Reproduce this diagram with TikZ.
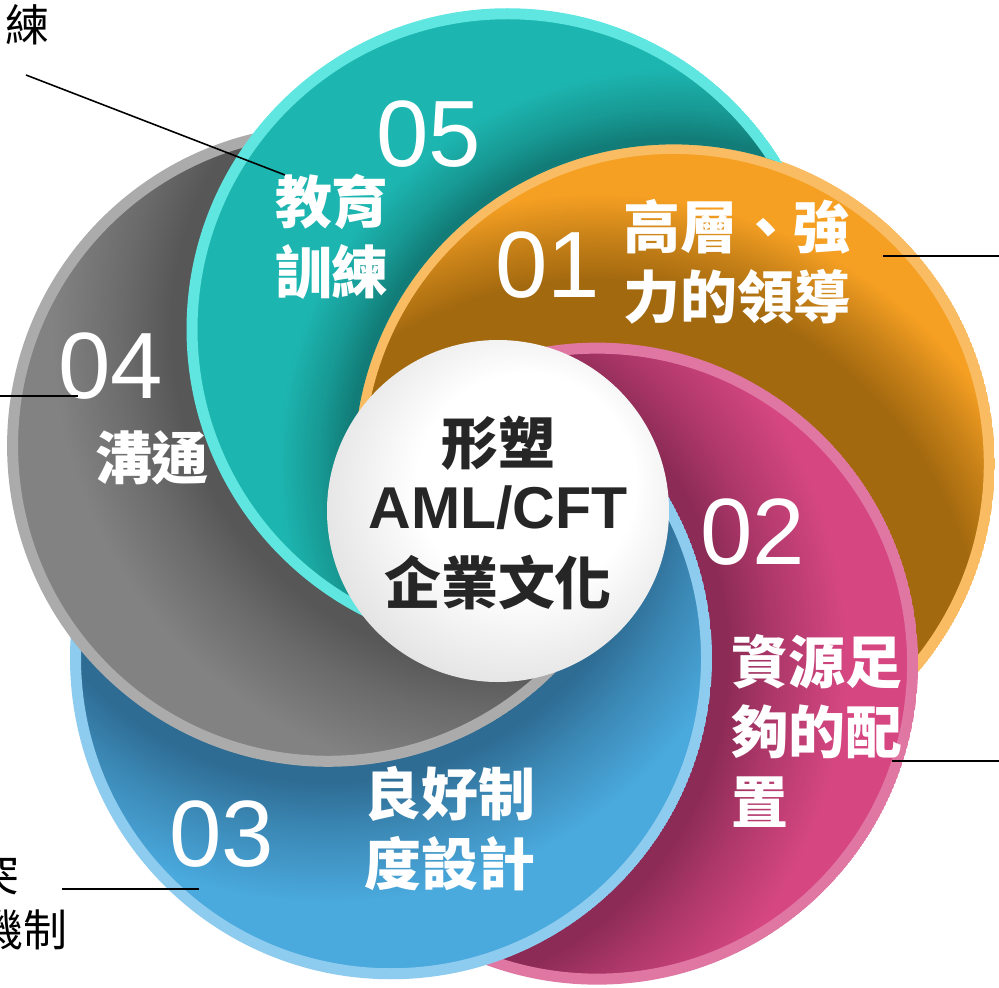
\documentclass[tikz,border=0pt]{standalone}
\usepackage{fontspec}
\setmainfont{Liberation Sans}
\newfontfamily\cjk{Noto Sans CJK TC}
\usepackage{tikz}

\definecolor{orbase}{HTML}{F6A023}
\definecolor{ordark}{HTML}{A3690F}
\definecolor{orrim}{HTML}{F9BC63}
\definecolor{pkbase}{HTML}{D64782}
\definecolor{pkdark}{HTML}{8C2B55}
\definecolor{pkrim}{HTML}{E077A3}
\definecolor{blbase}{HTML}{4AA9DD}
\definecolor{bldark}{HTML}{2E6C93}
\definecolor{blrim}{HTML}{8DCBEF}
\definecolor{grbase}{HTML}{828282}
\definecolor{grdark}{HTML}{575757}
\definecolor{grrim}{HTML}{ABABAB}
\definecolor{tlbase}{HTML}{1DB5B0}
\definecolor{tldark}{HTML}{127D78}
\definecolor{tlrim}{HTML}{5FE6E0}
\definecolor{coretext}{HTML}{262626}
\colorlet{sbase}{white}
\colorlet{sdark}{black}

\pgfdeclareradialshading[sdark,sbase]{shadowwide}{\pgfpointorigin}{%
  color(0bp)=(sdark); color(16bp)=(sdark); color(17.8bp)=(sdark!55!sbase);
  color(19.6bp)=(sbase); color(50bp)=(sbase)}
\pgfdeclareradialshading[sdark,sbase]{shadowmid}{\pgfpointorigin}{%
  color(0bp)=(sdark); color(14bp)=(sdark); color(16bp)=(sdark!55!sbase);
  color(19bp)=(sbase); color(50bp)=(sbase)}
\pgfdeclareradialshading[sdark,sbase]{shadowthin}{\pgfpointorigin}{%
  color(0bp)=(sdark); color(13.6bp)=(sdark); color(14.8bp)=(sdark!50!sbase);
  color(16.5bp)=(sbase); color(50bp)=(sbase)}
\pgfdeclareradialshading{whiteball}{\pgfpoint{6bp}{6bp}}{%
  color(0bp)=(white); color(16bp)=(white); color(28bp)=(black!10);
  color(34bp)=(black!20); color(50bp)=(black!25)}

% one coloured disc, seen only where the disc that covers it is not
\newcommand\petal[6]{%
  \begin{scope}[even odd rule]
    \clip (#1) circle (3.21);
    \clip (-7,-7) rectangle (7,7) (#2) circle (3.195);
    \begin{scope}
      \clip (#1) circle (3.16);
      \colorlet{sbase}{#3}\colorlet{sdark}{#4}
      \shade[shading=#6] (#2) circle (6);
    \end{scope}
    \draw[#5, line width=0.11cm] (#1) circle (3.155);
  \end{scope}
}

\tikzset{
  number/.style={text=white, inner sep=0pt, font=\fontsize{26.8}{30}\selectfont},
  petaltext/.style={text=white, inner sep=0pt, align=center, font=\cjk\bfseries\fontsize{16.2}{19.9}\selectfont},
  sidetext/.style={inner sep=0pt, font=\cjk\fontsize{12.5}{15}\selectfont},
  leader/.style={draw=black, line width=0.45pt}
}

\begin{document}
\begin{tikzpicture}
    \useasboundingbox (-4.98,-4.76) rectangle (5.01,5.11);

    \coordinate (c1) at (15:1.82);
    \coordinate (c2) at (303:1.82);
    \coordinate (c3) at (234:1.82);
    \coordinate (c4) at (159:1.82);
    \coordinate (c5) at (87:1.82);

    \petal{c1}{c2}{orbase}{ordark}{orrim}{shadowwide}
    \petal{c2}{c3}{pkbase}{pkdark}{pkrim}{shadowmid}
    \petal{c3}{c4}{blbase}{bldark}{blrim}{shadowmid}
    \petal{c4}{c5}{grbase}{grdark}{grrim}{shadowmid}
    \petal{c5}{c1}{tlbase}{tldark}{tlrim}{shadowthin}

    \shade[shading=whiteball] (0,0) circle (1.71);

    \node[number] (n01) at (0.50,2.46) {01};
    \node[number] (n02) at (2.55,-0.21) {02};
    \node[number] (n03) at (-2.76,-3.23) {03};
    \node[number] (n04) at (-3.87,1.45) {04};
    \node[number] (n05) at (-0.69,3.77) {05};

    \node[petaltext] (t01) at (2.39,2.49) {高層、強\\力的領導};
    \node[petaltext, anchor=west, align=left] (t02) at (2.33,-2.20) {資源足\\夠的配\\置};
    \node[petaltext] (t03) at (-0.48,-3.18) {良好制\\度設計};
    \node[petaltext] (t04) at (-3.46,0.53) {溝通};
    \node[petaltext] (t05) at (-1.66,2.74) {教育\\訓練};

    \node[align=center, inner sep=0pt, text=coretext, font=\fontsize{16.2}{20}\selectfont] (core) at (0,-0.02)
      {{\cjk\bfseries 形塑}\\[-1.8pt]{\bfseries\fontsize{16.8}{20}\selectfont AML/CFT}\\[1.6pt]{\cjk\bfseries 企業文化}};

    \node[sidetext] (s5) at (-4.71,4.86) {練};
    \node[sidetext, anchor=east] (s3a) at (-4.78,-3.64) {突};
    \node[sidetext, anchor=east] (s3b) at (-4.30,-4.19) {機制};

    \coordinate (a5) at (-4.72,4.36);
    \coordinate (b5) at (-2.13,3.36);
    \coordinate (a4) at (-4.98,1.15);
    \coordinate (b4) at (-4.20,1.15);
    \coordinate (a1) at (3.85,2.55);
    \coordinate (b1) at (5.01,2.55);
    \coordinate (a2) at (3.94,-2.50);
    \coordinate (b2) at (5.01,-2.50);
    \coordinate (a3) at (-4.36,-3.78);
    \coordinate (b3) at (-2.99,-3.78);

    \draw[leader] (a5) -- (b5);
    \draw[leader] (a4) -- (b4);
    \draw[leader] (a1) -- (b1);
    \draw[leader] (a2) -- (b2);
    \draw[leader] (a3) -- (b3);

\end{tikzpicture}
\end{document}
